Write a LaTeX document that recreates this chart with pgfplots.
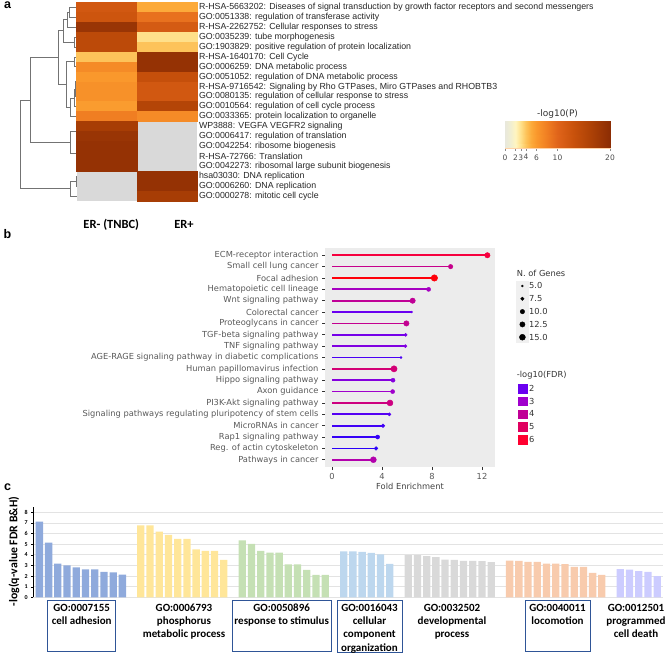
\documentclass[border=0pt]{standalone}
\usepackage{fontspec}
\setmainfont{Liberation Sans}
\newfontfamily\dejavu{DejaVu Sans}
\newfontfamily\carlito{Carlito}
\usepackage{pgfplots}
\pgfplotsset{compat=1.18}
\usepackage{pgfplotstable}

\definecolor{gA}{HTML}{8FAADC}
\definecolor{gB}{HTML}{FFE699}
\definecolor{gC}{HTML}{C5E0B4}
\definecolor{gD}{HTML}{BDD7EE}
\definecolor{gE}{HTML}{D9D9D9}
\definecolor{gF}{HTML}{F8CBAD}
\definecolor{gG}{HTML}{CCCCFF}
\definecolor{boxblue}{HTML}{2F5597}
\definecolor{fdrtwo}{RGB}{106,0,240}
\definecolor{fdrthree}{RGB}{160,0,204}
\definecolor{fdrfour}{RGB}{192,0,150}
\definecolor{fdrfive}{RGB}{224,0,96}
\definecolor{fdrsix}{RGB}{255,0,48}

\pgfplotsset{
  colormap={metascape}{rgb255(0pt)=(232,232,220) rgb255(1pt)=(240,238,210)
    rgb255(2pt)=(255,245,192) rgb255(3pt)=(255,224,138) rgb255(4pt)=(253,195,90)
    rgb255(5pt)=(252,170,58) rgb255(6pt)=(250,152,44) rgb255(8pt)=(240,126,34)
    rgb255(10pt)=(224,100,26) rgb255(13pt)=(201,82,12) rgb255(16pt)=(176,67,6)
    rgb255(20pt)=(140,45,4)},
  colormap={fdrmap}{rgb255(1pt)=(0,0,255) rgb255(2pt)=(106,0,240)
    rgb255(3pt)=(160,0,204) rgb255(4pt)=(192,0,150) rgb255(5pt)=(224,0,96)
    rgb255(6pt)=(255,0,48) rgb255(6.5pt)=(255,0,0)},
  dend/.style={black!55, line width=0.9pt, no markers},
  stem/.style={forget plot, no markers, line width=1.7pt, color of colormap={#1}},
}

% heatmap: column (0 = ER- (TNBC), 1 = ER+), row, -log10(P)
\pgfplotstableread{
col row p
0 1 12
1 1 5
0 2 12.5
1 2 9
0 3 18.5
1 3 11.5
0 4 14.5
1 4 3
0 5 14.5
1 5 4
0 6 4
1 6 19
0 7 7
1 7 19
0 8 6
1 8 13.5
0 9 6.5
1 9 12
0 10 6.5
1 10 12
0 11 5.8
1 11 15.5
0 12 8
1 12 7
0 13 17
0 14 18.5
0 15 19
0 16 19
0 17 19
1 18 19
1 19 19
1 20 17
}\heat

% lollipop heads: row (0 = top), fold enrichment, -log10(FDR), number of genes
\pgfplotstableread{
y fe fdr genes
0 12.43 5.7 13
1 9.49 4.2 10
2 8.19 6.4 17
3 7.73 3.2 9
4 6.45 4.0 13
5 6.37 2.0 5
6 5.95 4.1 13
7 5.89 2.2 7
8 5.87 2.4 7
9 5.52 1.7 5
10 4.96 4.6 16
11 4.88 2.5 9
12 4.85 3.0 9
13 4.64 4.4 15
14 4.59 1.8 7
15 4.08 1.6 8
16 3.65 1.5 9
17 3.52 1.4 8
18 3.31 3.6 15
}\lolli

\begin{document}
\begin{tikzpicture}
\useasboundingbox (0pt,0pt) rectangle (669pt,-655pt);

% ---------- panel a: dendrogram ----------
\begin{axis}[at={(0pt,0pt)}, anchor=north west, scale only axis,
    width=80pt, height=205pt, xmin=0, xmax=80, ymin=0, ymax=205,
    y dir=reverse, hide axis, clip=false]
\addplot[dend] coordinates {(77,7.27) (69.3,7.27) (69.3,17.21) (77,17.21)};
\addplot[dend] coordinates {(69.3,12.24) (67.7,12.24) (67.7,27.15) (77,27.15)};
\addplot[dend] coordinates {(77,37.09) (74,37.09) (74,47.03) (77,47.03)};
\addplot[dend] coordinates {(67.7,19.7) (63.3,19.7) (63.3,42.06) (74,42.06)};
\addplot[dend] coordinates {(77,56.97) (74.5,56.97) (74.5,66.91) (77,66.91)};
\addplot[dend] coordinates {(77,76.85) (76,76.85) (76,86.79) (77,86.79)};
\addplot[dend] coordinates {(76,81.82) (75.5,81.82) (75.5,96.73) (77,96.73)};
\addplot[dend] coordinates {(75.5,89.28) (74,89.28) (74,106.67) (77,106.67)};
\addplot[dend] coordinates {(74,97.98) (70,97.98) (70,116.61) (77,116.61)};
\addplot[dend] coordinates {(74.5,61.94) (66,61.94) (66,107.3) (70,107.3)};
\addplot[dend] coordinates {(63.3,30.88) (58.3,30.88) (58.3,84.62) (66,84.62)};
\addplot[dend] coordinates {(77,126.55) (76.5,126.55) (76.5,136.49) (77,136.49)};
\addplot[dend] coordinates {(77,156.37) (76.8,156.37) (76.8,166.31) (77,166.31)};
\addplot[dend] coordinates {(77,146.43) (76,146.43) (76,161.34) (76.8,161.34)};
\addplot[dend] coordinates {(76.5,131.52) (70,131.52) (70,153.9) (76,153.9)};
\addplot[dend] coordinates {(58.3,57.75) (30.7,57.75) (30.7,142.7) (70,142.7)};
\addplot[dend] coordinates {(77,176.25) (76.5,176.25) (76.5,186.19) (77,186.19)};
\addplot[dend] coordinates {(76.5,181.22) (70,181.22) (70,196.13) (77,196.13)};
\addplot[dend] coordinates {(30.7,100.2) (20.7,100.2) (20.7,188.68) (70,188.68)};
\end{axis}

% ---------- panel a: heatmap ----------
\begin{axis}[at={(76.7pt,-2.3pt)}, anchor=north west, scale only axis,
    width=120.6pt, height=198.7pt,
    xmin=-0.5, xmax=1.5, ymin=0.5, ymax=20.5, y dir=reverse,
    axis line style={draw=none}, major tick length=0pt,
    xtick=\empty, ytick={1,...,20}, yticklabel pos=right,
    yticklabel style={font=\fontsize{8.8}{9.5}\selectfont, text=black!85, inner xsep=1.5pt},
    yticklabels={
      R-HSA-5663202: Diseases of signal transduction by growth factor receptors and second messengers,
      GO:0051338: regulation of transferase activity,
      R-HSA-2262752: Cellular responses to stress,
      GO:0035239: tube morphogenesis,
      GO:1903829: positive regulation of protein localization,
      R-HSA-1640170: Cell Cycle,
      GO:0006259: DNA metabolic process,
      GO:0051052: regulation of DNA metabolic process,
      {R-HSA-9716542: Signaling by Rho GTPases, Miro GTPases and RHOBTB3},
      GO:0080135: regulation of cellular response to stress,
      GO:0010564: regulation of cell cycle process,
      GO:0033365: protein localization to organelle,
      WP3888: VEGFA VEGFR2 signaling,
      GO:0006417: regulation of translation,
      GO:0042254: ribosome biogenesis,
      R-HSA-72766: Translation,
      GO:0042273: ribosomal large subunit biogenesis,
      hsa03030: DNA replication,
      GO:0006260: DNA replication,
      GO:0000278: mitotic cell cycle},
    axis background/.style={fill=gray!30},
    colormap name=metascape, point meta min=0, point meta max=20]
\addplot[scatter, only marks, mark=square*, mark size=4.97pt,
    mark options={xscale=6.07}, point meta=explicit,
    scatter/use mapped color={draw=mapped color, fill=mapped color}]
    table[x=col, y=row, meta=p] {\heat};
\end{axis}

% ---------- panel a: colour scale ----------
\begin{axis}[at={(505pt,-121pt)}, anchor=north west, scale only axis,
    width=105pt, height=27pt, xmin=0, xmax=20, ymin=0, ymax=1,
    ytick=\empty, xtick={0,2,3,4,6,10,20}, xtick pos=bottom,
    tick align=outside, major tick length=3pt, tick style={black!45, line width=0.5pt},
    axis line style={draw=orange!35},
    xticklabel style={font=\dejavu\fontsize{7.5}{8}\selectfont, text=black!70},
    /pgf/number format/assume math mode=true,
    colormap name=metascape, point meta min=0, point meta max=20]
\addplot[patch, shader=interp, point meta=x]
    coordinates {(0,0) (20,0) (20,1) (0,0) (20,1) (0,1)};
\end{axis}
\node[font=\dejavu\fontsize{9}{10}\selectfont, text=black!80] at (557.5pt,-114pt) {-log10(P)};

\node[font=\carlito\bfseries\fontsize{12.5}{14}\selectfont, anchor=base] at (111.3pt,-229pt) {ER- (TNBC)};
\node[font=\carlito\bfseries\fontsize{12.5}{14}\selectfont, anchor=base] at (184pt,-229pt) {ER+};

% ---------- panel b: lollipop ----------
\fill[gray!12] (515.5pt,-281pt) rectangle (528.5pt,-343pt);
\begin{axis}[at={(325pt,-248pt)}, anchor=north west, scale only axis,
    width=170pt, height=219pt,
    xmin=-0.56, xmax=13.04, ymin=-0.64, ymax=18.64, y dir=reverse,
    axis background/.style={fill=gray!15}, axis line style={draw=none},
    xtick={0,4,8,12}, ytick={0,...,18}, xtick pos=bottom, ytick pos=left,
    tick align=outside, major tick length=3pt, tick style={black!80, line width=0.7pt},
    tick label style={font=\dejavu\fontsize{8.3}{9}\selectfont, text=black!65},
    /pgf/number format/assume math mode=true,
    yticklabels={ECM-receptor interaction, Small cell lung cancer, Focal adhesion,
      Hematopoietic cell lineage, Wnt signaling pathway, Colorectal cancer,
      Proteoglycans in cancer, TGF-beta signaling pathway, TNF signaling pathway,
      AGE-RAGE signaling pathway in diabetic complications, Human papillomavirus infection,
      Hippo signaling pathway, Axon guidance, PI3K-Akt signaling pathway,
      Signaling pathways regulating pluripotency of stem cells, MicroRNAs in cancer,
      Rap1 signaling pathway, Reg. of actin cytoskeleton, Pathways in cancer},
    xlabel={Fold Enrichment},
    xlabel style={font=\dejavu\fontsize{8.3}{9}\selectfont, text=black!75, yshift=3pt},
    colormap name=fdrmap, point meta min=1, point meta max=6.5,
    legend style={at={(1.1265,0.915)}, anchor=north west, draw=none, fill=none,
      inner sep=0pt, row sep=0pt, font=\dejavu\fontsize{8.3}{9}\selectfont,
      text=black!80, cells={anchor=west},
      nodes={inner sep=1pt, text height=8.2pt, text depth=2.6pt}},
    legend image code/.code={\path (-5.5pt,0pt) (5.5pt,0pt); \draw[#1] plot coordinates {(0pt,0pt)};}]
% stems, coloured by -log10(FDR) on the 0..1000 scale of the colormap (1 .. 6.5)
\addplot[stem=855] coordinates {(0,0) (12.43,0)};
\addplot[stem=582] coordinates {(0,1) (9.49,1)};
\addplot[stem=982] coordinates {(0,2) (8.19,2)};
\addplot[stem=400] coordinates {(0,3) (7.73,3)};
\addplot[stem=545] coordinates {(0,4) (6.45,4)};
\addplot[stem=182] coordinates {(0,5) (6.37,5)};
\addplot[stem=564] coordinates {(0,6) (5.95,6)};
\addplot[stem=218] coordinates {(0,7) (5.89,7)};
\addplot[stem=255] coordinates {(0,8) (5.87,8)};
\addplot[stem=127] coordinates {(0,9) (5.52,9)};
\addplot[stem=655] coordinates {(0,10) (4.96,10)};
\addplot[stem=273] coordinates {(0,11) (4.88,11)};
\addplot[stem=364] coordinates {(0,12) (4.85,12)};
\addplot[stem=618] coordinates {(0,13) (4.64,13)};
\addplot[stem=145] coordinates {(0,14) (4.59,14)};
\addplot[stem=109] coordinates {(0,15) (4.08,15)};
\addplot[stem=91] coordinates {(0,16) (3.65,16)};
\addplot[stem=73] coordinates {(0,17) (3.52,17)};
\addplot[stem=473] coordinates {(0,18) (3.31,18)};
\addplot[forget plot, scatter, only marks, mark=*, point meta=\thisrow{fdr},
    scatter/use mapped color={draw=mapped color, fill=mapped color},
    visualization depends on={\thisrow{genes}\as\ng},
    scatter/@pre marker code/.append style={/tikz/mark size={sqrt(1+0.8*(\ng-5))}}]
    table[x=fe, y=y] {\lolli};
\addlegendimage{empty legend}\addlegendentry{}
\addlegendimage{only marks, mark=*, black, mark size=1}\addlegendentry{5.0}
\addlegendimage{only marks, mark=*, black, mark size=1.73}\addlegendentry{7.5}
\addlegendimage{only marks, mark=*, black, mark size=2.24}\addlegendentry{10.0}
\addlegendimage{only marks, mark=*, black, mark size=2.65}\addlegendentry{12.5}
\addlegendimage{only marks, mark=*, black, mark size=3}\addlegendentry{15.0}
\addlegendimage{empty legend}\addlegendentry{}
\addlegendimage{empty legend}\addlegendentry{}
\addlegendimage{empty legend}\addlegendentry{}
\addlegendimage{only marks, mark=square*, fdrtwo, mark size=4.3}\addlegendentry{2}
\addlegendimage{only marks, mark=square*, fdrthree, mark size=4.3}\addlegendentry{3}
\addlegendimage{only marks, mark=square*, fdrfour, mark size=4.3}\addlegendentry{4}
\addlegendimage{only marks, mark=square*, fdrfive, mark size=4.3}\addlegendentry{5}
\addlegendimage{only marks, mark=square*, fdrsix, mark size=4.3}\addlegendentry{6}
\end{axis}
\node[font=\dejavu\fontsize{8.3}{9}\selectfont, text=black!80, anchor=west, inner sep=0pt] at (516.7pt,-273.3pt) {N. of Genes};
\node[font=\dejavu\fontsize{8.3}{9}\selectfont, text=black!80, anchor=west, inner sep=0pt] at (516.7pt,-375.7pt) {-log10(FDR)};

% ---------- panel c: bars ----------
\begin{axis}[at={(33.3pt,-597.3pt)}, anchor=south west, scale only axis,
    width=629.4pt, height=90.4pt, xmin=-0.66, xmax=67.6, ymin=0, ymax=8.5,
    axis x line=none, axis y line*=left, ytick={0,...,8},
    ymajorgrids, grid style={gray!22, line width=0.6pt},
    tick align=outside, major tick length=2pt, ytick style={black},
    axis line style={black, line width=0.8pt},
    yticklabel style={font=\carlito\bfseries\fontsize{6}{7}\selectfont, text=black},
    /pgf/number format/assume math mode=true,
    every axis plot/.append style={ybar, bar width=7.3pt, bar shift=0pt, draw=none}]
\addplot[fill=gA] coordinates {(0,7.12) (1,5.14) (2,3.17) (3,3.0) (4,2.82) (5,2.63) (6,2.63) (7,2.38) (8,2.35) (9,2.13)};
\addplot[fill=gB] coordinates {(11,6.77) (12,6.77) (13,6.18) (14,5.86) (15,5.49) (16,5.49) (17,4.51) (18,4.36) (19,4.36) (20,3.51)};
\addplot[fill=gC] coordinates {(22,5.36) (23,5.02) (24,4.36) (25,4.2) (26,4.2) (27,3.1) (28,3.1) (29,2.57) (30,2.1) (31,2.1)};
\addplot[fill=gD] coordinates {(33,4.33) (34,4.33) (35,4.28) (36,4.18) (37,4.04) (38,3.15)};
\addplot[fill=gE] coordinates {(40,3.97) (41,3.97) (42,3.87) (43,3.78) (44,3.55) (45,3.53) (46,3.43) (47,3.43) (48,3.41) (49,3.3)};
\addplot[fill=gF] coordinates {(51,3.45) (52,3.43) (53,3.32) (54,3.32) (55,3.17) (56,3.16) (57,3.12) (58,2.87) (59,2.86) (60,2.3) (61,2.12)};
\addplot[fill=gG] coordinates {(63,2.65) (64,2.6) (65,2.45) (66,2.4) (67,2.0)};
\end{axis}
\node[rotate=90, font=\carlito\bfseries\fontsize{11.8}{13}\selectfont] at (14pt,-551.5pt) {-log(q-value FDR B\&H)};

\begin{scope}[boxblue, line width=1pt]
\draw (47.7pt,-600pt) rectangle (115pt,-651.7pt);
\draw (232.7pt,-600pt) rectangle (331pt,-651.7pt);
\draw (337.3pt,-600pt) rectangle (402.7pt,-652.7pt);
\draw (525pt,-600pt) rectangle (590.7pt,-651.7pt);
\end{scope}
\begin{scope}[every node/.style={font=\carlito\bfseries\fontsize{11}{13.3}\selectfont, align=center, anchor=north, inner sep=0pt}]
\node at (81.7pt,-603.6pt) {GO:0007155\\cell adhesion};
\node at (184pt,-603.6pt) {GO:0006793\\phosphorus\\metabolic process};
\node at (281.7pt,-603.6pt) {GO:0050896\\response to stimulus};
\node at (369.5pt,-603.6pt) {GO:0016043\\cellular\\component\\organization};
\node at (452pt,-603.6pt) {GO:0032502\\developmental\\process};
\node at (557.5pt,-603.6pt) {GO:0040011\\locomotion};
\node at (636pt,-603.6pt) {GO:0012501\\programmed\\cell death};
\end{scope}

% ---------- panel letters ----------
\begin{scope}[every node/.style={font=\bfseries\fontsize{12.5}{14}\selectfont, anchor=base west, inner sep=0pt}]
\node at (4pt,-8.5pt) {a};
\node at (3.5pt,-238.3pt) {b};
\node at (4pt,-490pt) {c};
\end{scope}
\end{tikzpicture}
\end{document}
